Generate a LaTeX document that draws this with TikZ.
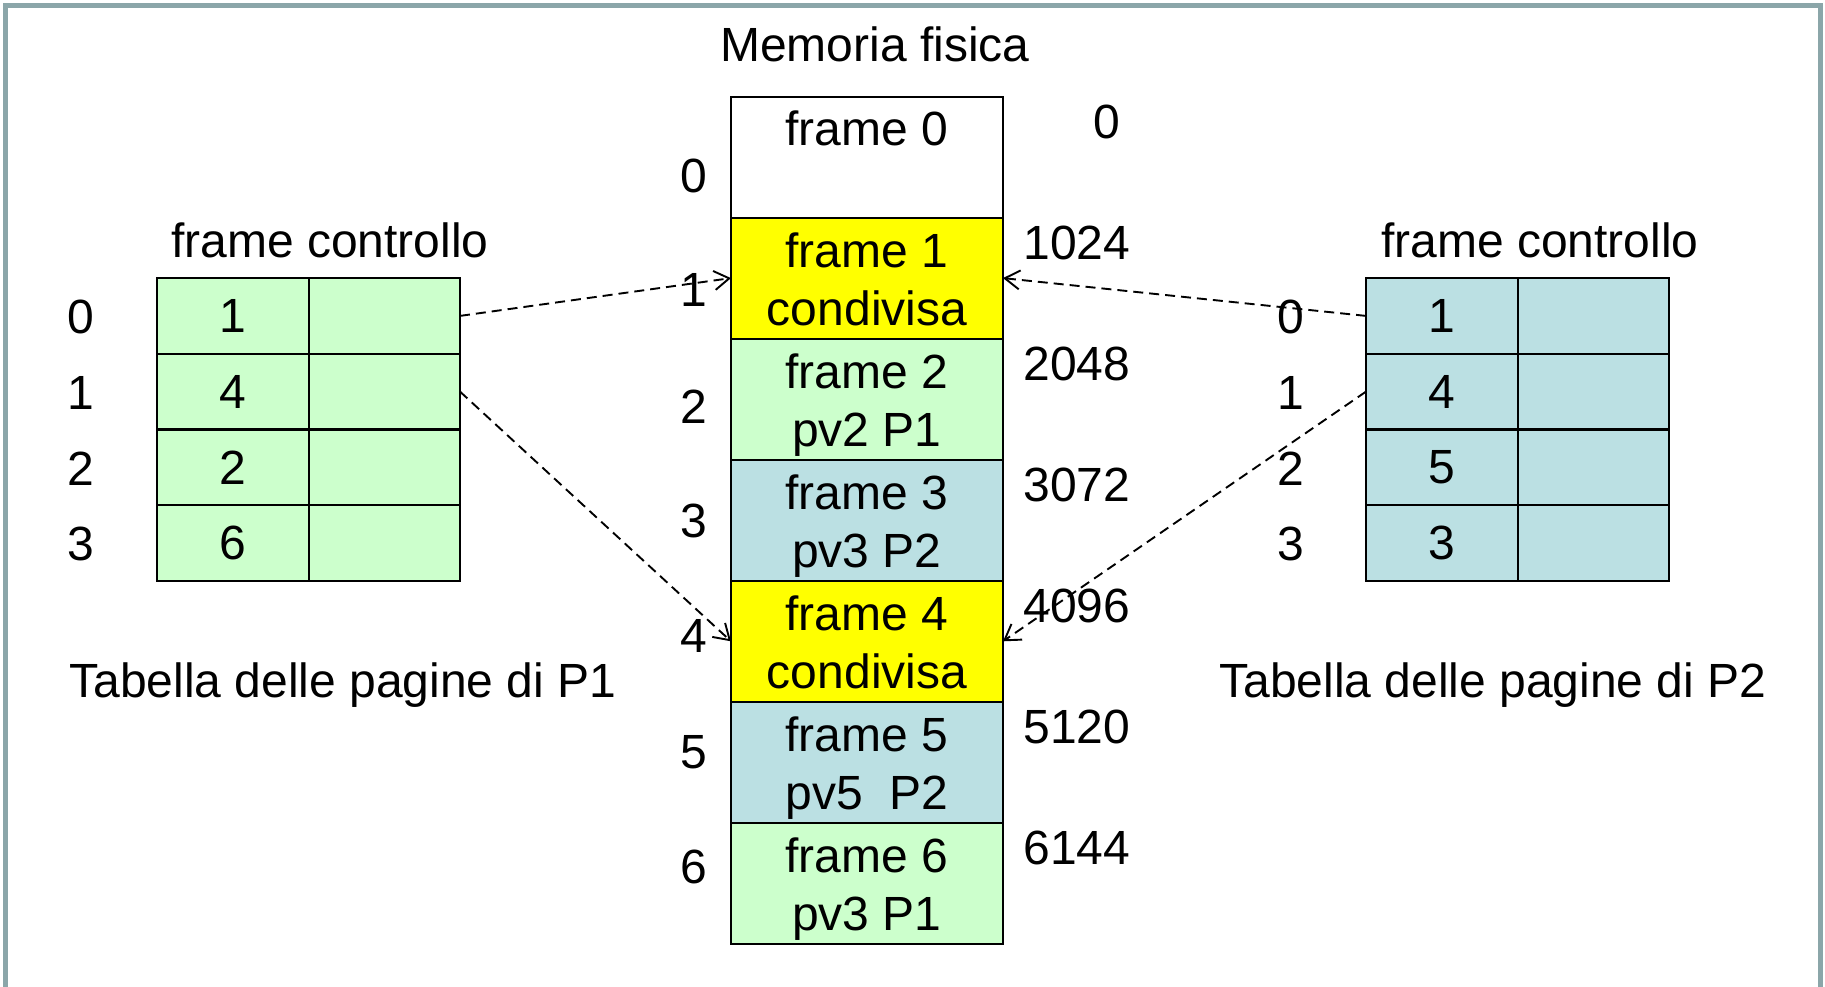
\documentclass[tikz,border=0pt]{standalone}
\usepackage{fontspec}
\setmainfont{Liberation Sans}
\usetikzlibrary{arrows.meta}
\definecolor{pgreen}{HTML}{CCFFCC}
\definecolor{pblue}{HTML}{BBE0E3}
\definecolor{pyellow}{HTML}{FFFF00}
\definecolor{frameg}{HTML}{8BA6A9}
\begin{document}
\begin{tikzpicture}[x=1pt,y=-1pt,
 every node/.style={font=\fontsize{48}{58}\selectfont, inner sep=0pt, outer sep=0pt},
 mem/.style={draw, line width=2pt, minimum width=272pt, minimum height=121pt},
 memtxt/.style={align=center},
 cell/.style={draw, line width=2pt, minimum width=151.5pt, minimum height=75.75pt},
 lab/.style={anchor=base},
 ptr/.style={line width=1.9pt, dash pattern=on 10pt off 6pt, -{Straight Barb[length=15pt,width=19pt]}}]
\useasboundingbox (0,0) rectangle (1825,987);
\draw[frameg, line width=5pt] (5.8,5.8) rectangle (1820,990);

% physical memory
\node[lab] (title) at (875,62) {Memoria fisica};
\node[mem, fill=white]   (m0) at (867,157.1) {};
\node[mem, fill=pyellow] (m1) at (867,278.1) {};
\node[mem, fill=pgreen]  (m2) at (867,399.2) {};
\node[mem, fill=pblue]   (m3) at (867,520.2) {};
\node[mem, fill=pyellow] (m4) at (867,641.3) {};
\node[mem, fill=pblue]   (m5) at (867,762.3) {};
\node[mem, fill=pgreen]  (m6) at (867,883.4) {};
\node[lab] (t0) at (867,146) {frame 0};
\node[memtxt] (t1) at ([yshift=-6pt]m1.center) {frame 1\\condivisa\vphantom{p}};
\node[memtxt] (t2) at ([yshift=-6pt]m2.center) {frame 2\\pv2 P1};
\node[memtxt] (t3) at ([yshift=-6pt]m3.center) {frame 3\\pv3 P2};
\node[memtxt] (t4) at ([yshift=-6pt]m4.center) {frame 4\\condivisa\vphantom{p}};
\node[memtxt] (t5) at ([yshift=-6pt]m5.center) {frame 5\\pv5\ \ P2};
\node[memtxt] (t6) at ([yshift=-6pt]m6.center) {frame 6\\pv3 P1};

% frame indices
\node[lab] (i0) at (694,193) {0};
\node[lab] (i1) at (694,306) {1};
\node[lab] (i2) at (694,423) {2};
\node[lab] (i3) at (694,537) {3};
\node[lab] (i4) at (694,652) {4};
\node[lab] (i5) at (694,768) {5};
\node[lab] (i6) at (694,883) {6};

% addresses
\node[lab] (a0) at (1107,139) {0};
\node[lab] (a1) at (1077,259) {1024};
\node[lab] (a2) at (1077,380) {2048};
\node[lab] (a3) at (1077,501) {3072};
\node[lab] (a4) at (1077,622) {4096};
\node[lab] (a5) at (1077,743) {5120};
\node[lab] (a6) at (1077,864) {6144};

% left page table (P1)
\node[lab] (lh) at (330,257) {frame controllo};
\node[cell, fill=pgreen] (lv0) at (232.75,315.9) {1};
\node[cell, fill=pgreen] (lc0) at (384.25,315.9) {};
\node[cell, fill=pgreen] (lv1) at (232.75,391.6) {4};
\node[cell, fill=pgreen] (lc1) at (384.25,391.6) {};
\node[cell, fill=pgreen] (lv2) at (232.75,467.4) {2};
\node[cell, fill=pgreen] (lc2) at (384.25,467.4) {};
\node[cell, fill=pgreen] (lv3) at (232.75,543.1) {6};
\node[cell, fill=pgreen] (lc3) at (384.25,543.1) {};
\node[lab] (li0) at (81,333) {0};
\node[lab] (li1) at (81,409) {1};
\node[lab] (li2) at (81,485) {2};
\node[lab] (li3) at (81,560) {3};
\node[lab] (lcap) at (343,697) {Tabella delle pagine di P1};

% right page table (P2)
\node[lab] (rh) at (1540,257) {frame controllo};
\node[cell, fill=pblue] (rv0) at (1441.75,315.9) {1};
\node[cell, fill=pblue] (rc0) at (1593.25,315.9) {};
\node[cell, fill=pblue] (rv1) at (1441.75,391.6) {4};
\node[cell, fill=pblue] (rc1) at (1593.25,391.6) {};
\node[cell, fill=pblue] (rv2) at (1441.75,467.4) {5};
\node[cell, fill=pblue] (rc2) at (1593.25,467.4) {};
\node[cell, fill=pblue] (rv3) at (1441.75,543.1) {3};
\node[cell, fill=pblue] (rc3) at (1593.25,543.1) {};
\node[lab] (ri0) at (1291,333) {0};
\node[lab] (ri1) at (1291,409) {1};
\node[lab] (ri2) at (1291,485) {2};
\node[lab] (ri3) at (1291,560) {3};
\node[lab] (rcap) at (1493,697) {Tabella delle pagine di P2};

% pointers
\draw[ptr] (lc0.east) -- (m1.west);
\draw[ptr] (lc1.east) -- (m4.west);
\draw[ptr] (rv0.west) -- (m1.east);
\draw[ptr] (rv1.west) -- (m4.east);
\end{tikzpicture}
\end{document}
